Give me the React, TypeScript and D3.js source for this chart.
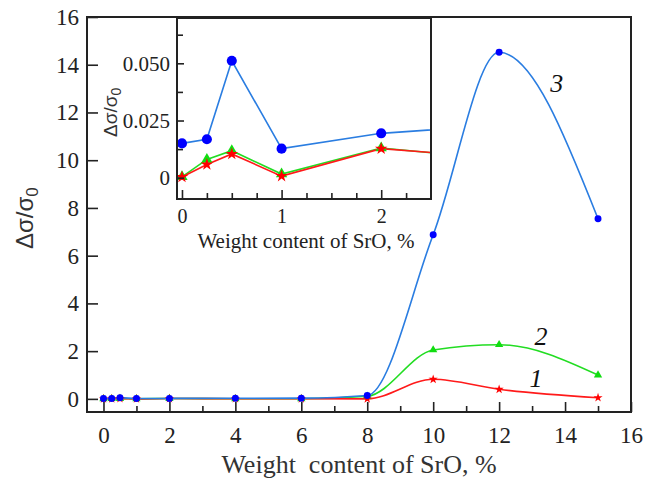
import React, { useEffect, useRef } from "react";
import * as d3 from "d3";

// DATA
const srO = [0, 0.25, 0.5, 1, 2, 4, 6, 8, 10, 12, 15];
const curve1 = [0.0003, 0.0058, 0.0104, 0.0007, 0.0127, 0.006, 0.004, 0.0, 0.82, 0.4, 0.05];
const curve2 = [0.0004, 0.008, 0.0118, 0.0016, 0.013, 0.0046, 0.005, 0.11, 2.05, 2.27, 1.0];
const curve3 = [0.015, 0.0168, 0.0511, 0.0127, 0.0194, 0.0254, 0.03, 0.14, 6.88, 14.52, 7.55];

const mainXTicks = [0, 2, 4, 6, 8, 10, 12, 14, 16];
const mainXMinor = [1, 3, 5, 7, 9, 11, 13, 15];
const mainYTicks = [0, 2, 4, 6, 8, 10, 12, 14, 16];
const insetXTicks = [0, 1, 2];
const insetXMinor = [0.25, 0.5, 0.75, 1.25, 1.5, 1.75, 2.25];
const insetYTicks = [0, 0.025, 0.05];
const insetYMinor = [0.0125, 0.0375, 0.0625];

const curveNames = ["1", "2", "3"];
// label anchors in data units
const nameX = [13.12, 13.27, 13.75];
const nameY = [0.5, 2.26, 12.87];

const SERIF = '"Liberation Serif", "Times New Roman", serif';
const SANS = '"Liberation Sans", Arial, sans-serif';

export default function App() {
  const ref = useRef<SVGSVGElement | null>(null);

  useEffect(() => {
    const svg = d3.select(ref.current);
    svg.selectAll("*").remove();

    // SCALES
    const x = d3.scaleLinear().domain([-0.5, 16]).range([87, 631]);
    const y = d3.scaleLinear().domain([-0.55, 16]).range([412, 17]);
    const ix = d3.scaleLinear().domain([-0.05, 2.5]).range([177, 431]);
    const iy = d3.scaleLinear().domain([-0.0093, 0.0698]).range([199, 18]);

    const series = [
      { values: curve1, line: "#ff1a1a", mark: "#ff0000", type: d3.symbolStar, size: 26, isize: 48 },
      { values: curve2, line: "#22dd22", mark: "#11dd11", type: d3.symbolTriangle, size: 30, isize: 55 },
      { values: curve3, line: "#2a7de1", mark: "#0000ff", type: d3.symbolCircle, size: 38, isize: 80 },
    ];
    const order = [1, 0, 2];

    // MAIN FRAME
    svg
      .append("rect")
      .attr("x", 87)
      .attr("y", 17)
      .attr("width", 544)
      .attr("height", 395)
      .attr("fill", "none")
      .attr("stroke", "#222")
      .attr("stroke-width", 2);

    // MAIN AXES
    const xAxis = svg
      .append("g")
      .attr("transform", "translate(0,412)")
      .call(d3.axisBottom(x).tickValues(mainXTicks).tickSize(-10).tickPadding(0));
    xAxis
      .selectAll("text")
      .attr("dy", null)
      .attr("y", 31)
      .style("font-size", "23px")
      .style("font-family", SERIF)
      .attr("fill", "#222");
    svg
      .append("g")
      .attr("transform", "translate(0,412)")
      .call(d3.axisBottom(x).tickValues(mainXMinor).tickSize(-6).tickFormat(() => ""));

    const yAxis = svg
      .append("g")
      .attr("transform", "translate(87,0)")
      .call(d3.axisLeft(y).tickValues(mainYTicks).tickSize(-11).tickPadding(8));
    yAxis
      .selectAll("text")
      .style("font-size", "23px")
      .style("font-family", SERIF)
      .attr("fill", "#222");

    svg.selectAll(".domain").remove();
    svg.selectAll(".tick line").attr("stroke", "#222").attr("stroke-width", 1.6);

    // MAIN CURVES
    const smooth = d3
      .line<number>()
      .x((d, i) => x(srO[i]))
      .y((d) => y(d))
      .curve(d3.curveMonotoneX);

    order.forEach((k) => {
      const s = series[k];
      svg
        .append("path")
        .datum(s.values)
        .attr("fill", "none")
        .attr("stroke", s.line)
        .attr("stroke-width", 1.6)
        .attr("d", smooth);
    });
    order.forEach((k) => {
      const s = series[k];
      svg
        .append("g")
        .selectAll("path")
        .data(s.values)
        .join("path")
        .attr("transform", (d, i) => `translate(${x(srO[i])},${y(d)})`)
        .attr("d", d3.symbol().type(s.type).size(s.size)())
        .attr("fill", s.mark);
    });

    // CURVE NUMBERS
    curveNames.forEach((n, i) => {
      svg
        .append("text")
        .attr("x", x(nameX[i]))
        .attr("y", y(nameY[i]))
        .attr("text-anchor", "middle")
        .style("font-family", SERIF)
        .style("font-style", "italic")
        .style("font-size", "26px")
        .attr("fill", "#111")
        .text(n);
    });

    // AXIS TITLES
    svg
      .append("text")
      .attr("x", 359)
      .attr("y", 473)
      .attr("text-anchor", "middle")
      .style("font-family", SERIF)
      .style("font-size", "26px")
      .attr("fill", "#333")
      .style("white-space", "pre")
      .text("Weight  content of SrO, %");

    const yTitle = svg
      .append("text")
      .attr("transform", "translate(33,249) rotate(-90)")
      .style("font-family", SANS)
      .style("font-size", "24px")
      .attr("fill", "#333");
    yTitle.append("tspan").text("Δσ/σ");
    yTitle.append("tspan").attr("dy", "0.3em").style("font-size", "17px").text("0");

    // INSET
    const inset = svg.append("g");
    inset
      .append("rect")
      .attr("x", 177)
      .attr("y", 18)
      .attr("width", 254)
      .attr("height", 181)
      .attr("fill", "#fff");

    inset
      .append("clipPath")
      .attr("id", "inset-clip")
      .append("rect")
      .attr("x", 177)
      .attr("y", 18)
      .attr("width", 254)
      .attr("height", 181);

    const straight = d3
      .line<number>()
      .x((d, i) => ix(srO[i]))
      .y((d) => iy(d));

    const plot = inset.append("g").attr("clip-path", "url(#inset-clip)");
    order.forEach((k) => {
      const s = series[k];
      plot
        .append("path")
        .datum(s.values)
        .attr("fill", "none")
        .attr("stroke", s.line)
        .attr("stroke-width", 1.6)
        .attr("d", straight);
    });
    order.forEach((k) => {
      const s = series[k];
      plot
        .append("g")
        .selectAll("path")
        .data(s.values.filter((d, i) => srO[i] <= 2))
        .join("path")
        .attr("transform", (d, i) => `translate(${ix(srO[i])},${iy(d)})`)
        .attr("d", d3.symbol().type(s.type).size(s.isize)())
        .attr("fill", s.mark);
    });

    inset
      .append("rect")
      .attr("x", 177)
      .attr("y", 18)
      .attr("width", 254)
      .attr("height", 181)
      .attr("fill", "none")
      .attr("stroke", "#222")
      .attr("stroke-width", 2);

    const ixAxis = inset
      .append("g")
      .attr("transform", "translate(0,199)")
      .call(
        d3
          .axisBottom(ix)
          .tickValues(insetXTicks)
          .tickSize(-9)
          .tickPadding(0)
          .tickFormat(d3.format("d"))
      );
    ixAxis
      .selectAll("text")
      .attr("dy", null)
      .attr("y", 24)
      .style("font-size", "20px")
      .style("font-family", SERIF)
      .attr("fill", "#222");
    inset
      .append("g")
      .attr("transform", "translate(0,199)")
      .call(d3.axisBottom(ix).tickValues(insetXMinor).tickSize(-6).tickFormat(() => ""));

    const iyAxis = inset
      .append("g")
      .attr("transform", "translate(177,0)")
      .call(
        d3
          .axisLeft(iy)
          .tickValues(insetYTicks)
          .tickSize(-7)
          .tickPadding(7)
          .tickFormat((d) => (d === 0 ? "0" : d3.format(".3f")(d as number)))
      );
    iyAxis
      .selectAll("text")
      .style("font-size", "21px")
      .style("font-family", SERIF)
      .attr("fill", "#222");
    inset
      .append("g")
      .attr("transform", "translate(177,0)")
      .call(d3.axisLeft(iy).tickValues(insetYMinor).tickSize(-6).tickFormat(() => ""));

    inset.selectAll(".domain").remove();
    inset.selectAll(".tick line").attr("stroke", "#222").attr("stroke-width", 1.6);

    inset
      .append("text")
      .attr("x", 306)
      .attr("y", 248)
      .attr("text-anchor", "middle")
      .style("font-family", SERIF)
      .style("font-size", "21px")
      .attr("fill", "#222")
      .text("Weight content of SrO, %");

    const iyTitle = inset
      .append("text")
      .attr("transform", "translate(117,137) rotate(-90)")
      .style("font-family", SANS)
      .style("font-size", "19px")
      .attr("fill", "#333");
    iyTitle.append("tspan").text("Δσ/σ");
    iyTitle.append("tspan").attr("dy", "0.3em").style("font-size", "14px").text("0");
  }, []);

  return (
    <svg
      ref={ref}
      width={657}
      height={481}
      style={{ position: "absolute", left: 0, top: 0, background: "#fff" }}
    />
  );
}
